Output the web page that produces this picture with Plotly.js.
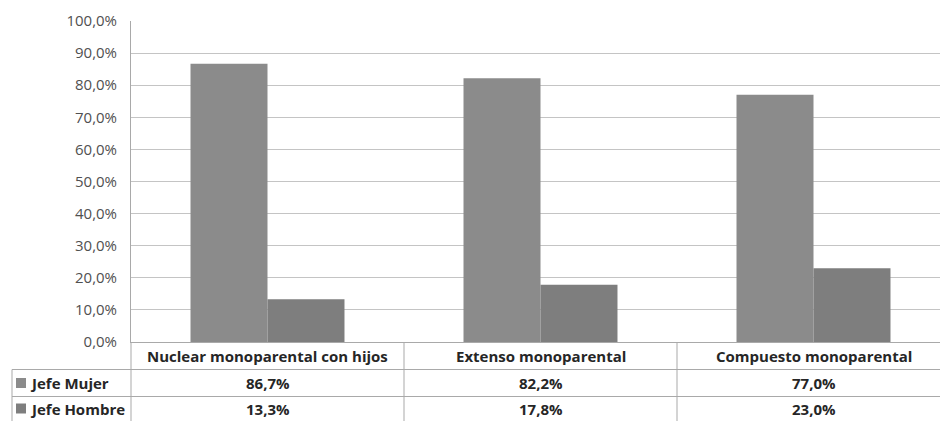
<!DOCTYPE html>
<html>
<head>
<meta charset="utf-8">
<script src="https://cdn.plot.ly/plotly-3.0.1.min.js"></script>
<style>html,body{margin:0;padding:0;background:#fff;}#chart{width:940px;height:421px;}</style>
</head>
<body>
<div id="chart"></div>
<script>
const categories = ['Nuclear monoparental con hijos', 'Extenso monoparental', 'Compuesto monoparental'];
const seriesNames = ['Jefe Mujer', 'Jefe Hombre'];
const jefeMujer = [86.7, 82.2, 77.0];
const jefeHombre = [13.3, 17.8, 23.0];
const seriesValues = [jefeMujer, jefeHombre];
const seriesColors = ['#8b8b8b', '#7e7e7e'];
const yTickValues = [0, 10, 20, 30, 40, 50, 60, 70, 80, 90, 100];

function fmt(v) { return v.toFixed(1).replace('.', ',') + '%'; }
const yTickText = yTickValues.map(fmt);

const W = 940, H = 421;
const mL = 131, mR = 0, mT = 21, mB = 79;
const plotW = W - mL - mR, plotH = H - mT - mB;
const catPx = 273;
const xMax = -0.5 + plotW / catPx;
const px2py = y => (H - mB - y) / plotH;   // pixel y -> paper y
const px2px = x => (x - mL) / plotW;       // pixel x -> paper x

const xIdx = categories.map((c, i) => i);
const traces = seriesValues.map((vals, s) => ({
  type: 'bar',
  x: xIdx,
  y: vals,
  name: seriesNames[s],
  marker: { color: seriesColors[s], line: { width: 0 } },
  hoverinfo: 'skip'
}));

const lineColor = '#a9a9a9';
const textColor = '#262626';
const font = '"Open Sans", sans-serif';
const tSize = 15;

const shapes = [];
const annotations = [];
const yHeaderBottom = px2py(369.5), yRow1Bottom = px2py(396.5), yBottom = px2py(425);
shapes.push({ type: 'line', xref: 'paper', yref: 'paper', x0: px2px(12), x1: 1, y0: yHeaderBottom, y1: yHeaderBottom, line: { color: lineColor, width: 1 } });
shapes.push({ type: 'line', xref: 'paper', yref: 'paper', x0: px2px(12), x1: 1, y0: yRow1Bottom, y1: yRow1Bottom, line: { color: lineColor, width: 1 } });
shapes.push({ type: 'line', xref: 'paper', yref: 'paper', x0: 0, x1: 0, y0: 0, y1: yBottom, line: { color: lineColor, width: 1 } });
shapes.push({ type: 'line', xref: 'paper', yref: 'paper', x0: px2px(12), x1: px2px(12), y0: yHeaderBottom, y1: yBottom, line: { color: lineColor, width: 1 } });
for (let i = 0; i < categories.length - 1; i++) {
  shapes.push({ type: 'line', xref: 'x', yref: 'paper', x0: i + 0.5, x1: i + 0.5, y0: 0, y1: yBottom, line: { color: lineColor, width: 1 } });
}
const rowY = [px2py(356), px2py(383), px2py(408.5)];
categories.forEach((c, i) => {
  annotations.push({ xref: 'x', yref: 'paper', x: i, y: rowY[0], text: '<b>' + c + '</b>', showarrow: false, font: { family: font, size: tSize, color: textColor }, xanchor: 'center', yanchor: 'middle' });
});
seriesValues.forEach((vals, s) => {
  shapes.push({ type: 'rect', xref: 'paper', yref: 'paper', x0: px2px(16), x1: px2px(26), y0: rowY[s + 1] - 5 / plotH, y1: rowY[s + 1] + 5 / plotH, fillcolor: seriesColors[s], line: { width: 0 } });
  annotations.push({ xref: 'paper', yref: 'paper', x: px2px(28), y: rowY[s + 1], text: '<b>' + seriesNames[s] + '</b>', showarrow: false, font: { family: font, size: tSize, color: textColor }, xanchor: 'left', yanchor: 'middle' });
  vals.forEach((v, i) => {
    annotations.push({ xref: 'x', yref: 'paper', x: i, y: rowY[s + 1], text: '<b>' + fmt(v) + '</b>', showarrow: false, font: { family: font, size: tSize, color: textColor }, xanchor: 'center', yanchor: 'middle' });
  });
});

const layout = {
  width: W, height: H,
  margin: { l: mL, r: mR, t: mT, b: mB, pad: 0 },
  paper_bgcolor: '#ffffff', plot_bgcolor: '#ffffff',
  showlegend: false,
  barmode: 'group',
  bargap: 0.436,
  bargroupgap: 0,
  xaxis: {
    range: [-0.5, xMax], showticklabels: false, showgrid: false, zeroline: false,
    showline: true, linecolor: lineColor, linewidth: 1, fixedrange: true
  },
  yaxis: {
    range: [0, 100], tickvals: yTickValues, ticktext: yTickText, tickmode: 'array',
    showgrid: true, gridcolor: '#c4c4c4', gridwidth: 1, zeroline: false,
    showline: true, linecolor: lineColor, linewidth: 1,
    ticks: 'outside', ticklen: 10, tickcolor: 'rgba(0,0,0,0)',
    tickfont: { family: font, size: 15, color: '#505050' }, fixedrange: true
  },
  shapes: shapes,
  annotations: annotations
};

Plotly.newPlot('chart', traces, layout, { displayModeBar: false, staticPlot: true });
</script>
</body>
</html>
